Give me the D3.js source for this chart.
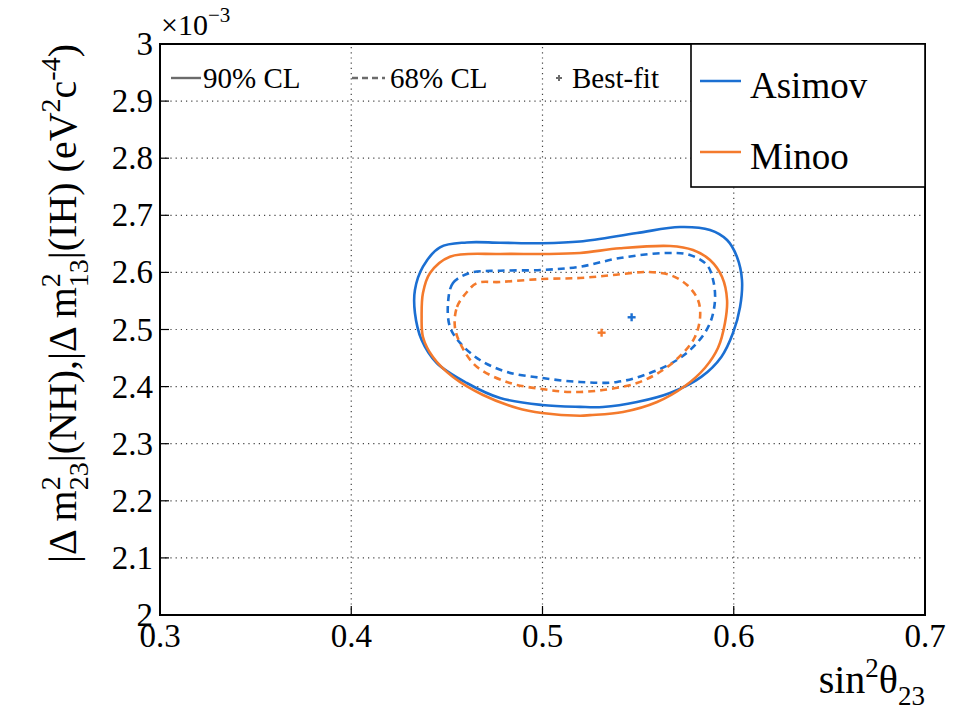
<!DOCTYPE html>
<html>
<head>
<meta charset="utf-8">
<script src="https://cdn.jsdelivr.net/npm/d3@7"></script>
<style>
  body { margin: 0; background: #fff; }
  text { font-family: "Liberation Serif", "Times New Roman", serif; fill: #000; }
</style>
</head>
<body>
<div id="chart"></div>
<script>
// contour points: [sin^2 theta23, |dm^2| x 1e3]
const asimov90 = [
  [0.4333, 2.5289], [0.4333, 2.5692], [0.4375, 2.6100], [0.4464, 2.6440], [0.4604, 2.6525],
  [0.4778, 2.6520], [0.4997, 2.6510], [0.5196, 2.6540], [0.5494, 2.6690], [0.5719, 2.6795],
  [0.5876, 2.6743], [0.5965, 2.6567], [0.6017, 2.6270], [0.6043, 2.5867], [0.6033, 2.5394],
  [0.5996, 2.4939], [0.5935, 2.4520], [0.5830, 2.4170], [0.5667, 2.3888], [0.5494, 2.3730],
  [0.5316, 2.3643], [0.5196, 2.3645], [0.4997, 2.3678], [0.4778, 2.3800], [0.4604, 2.4063],
  [0.4447, 2.4413], [0.4368, 2.4816]
];
const minoo90 = [
  [0.4368, 2.5224], [0.4375, 2.4869], [0.4427, 2.4518], [0.4532, 2.4168], [0.4689, 2.3853],
  [0.4867, 2.3625], [0.4997, 2.3538], [0.5196, 2.3490], [0.5248, 2.3500], [0.5421, 2.3555],
  [0.5599, 2.3730], [0.5745, 2.4010], [0.5850, 2.4330], [0.5918, 2.4680], [0.5954, 2.5114],
  [0.5965, 2.5517], [0.5939, 2.5919], [0.5876, 2.6217], [0.5787, 2.6392], [0.5667, 2.6462],
  [0.5405, 2.6422], [0.5196, 2.6340], [0.4997, 2.6322], [0.4778, 2.6322], [0.4516, 2.6275],
  [0.4412, 2.5990], [0.4375, 2.5639]
];
const asimov68 = [
  [0.4506, 2.5464], [0.4532, 2.5814], [0.4621, 2.5990], [0.4778, 2.6030], [0.4997, 2.6042],
  [0.5196, 2.6100], [0.5405, 2.6252], [0.5651, 2.6340], [0.5771, 2.6305], [0.5860, 2.6130],
  [0.5892, 2.5867], [0.5902, 2.5517], [0.5876, 2.5114], [0.5808, 2.4764], [0.5703, 2.4466],
  [0.5562, 2.4238], [0.5390, 2.4081], [0.5196, 2.4081], [0.4997, 2.4151], [0.4814, 2.4256],
  [0.4673, 2.4466], [0.4569, 2.4764], [0.4516, 2.5044]
];
const minoo68 = [
  [0.4542, 2.5044], [0.4553, 2.5394], [0.4605, 2.5657], [0.4658, 2.5814], [0.4778, 2.5832],
  [0.4997, 2.5884], [0.5196, 2.5902], [0.5369, 2.5954], [0.5546, 2.6007], [0.5667, 2.5954],
  [0.5756, 2.5779], [0.5813, 2.5517], [0.5824, 2.5219], [0.5797, 2.4869], [0.5735, 2.4588],
  [0.5630, 2.4291], [0.5494, 2.4063], [0.5316, 2.3940], [0.5144, 2.3905], [0.4997, 2.3958],
  [0.4830, 2.4063], [0.4658, 2.4343], [0.4579, 2.4694]
];
const bestFit = [
  {name: 'Asimov', x: 0.5466, y: 2.5214},
  {name: 'Minoo', x: 0.5309, y: 2.4944}
];
const xTicks = [0.3, 0.4, 0.5, 0.6, 0.7];
const xTickLabels = ['0.3', '0.4', '0.5', '0.6', '0.7'];
const yTicks = [2.0, 2.1, 2.2, 2.3, 2.4, 2.5, 2.6, 2.7, 2.8, 2.9, 3.0];
const yTickLabels = ['2', '2.1', '2.2', '2.3', '2.4', '2.5', '2.6', '2.7', '2.8', '2.9', '3'];

const width = 966, height = 713;
const blue = '#1b6fd2', orange = '#f47a2c';

const svg = d3.select('#chart').append('svg')
  .attr('width', width).attr('height', height)
  .attr('viewBox', [0, 0, width, height]);

const x = d3.scaleLinear().domain([0.3, 0.7]).range([160, 925]);
const y = d3.scaleLinear().domain([2.0, 3.0]).range([615, 44]);

// dotted grid
svg.append('g').selectAll('line').data(xTicks.slice(1, -1)).join('line')
  .attr('x1', d => x(d)).attr('x2', d => x(d))
  .attr('y1', y(2)).attr('y2', y(3))
  .attr('stroke', '#444').attr('stroke-width', 1.2).attr('stroke-dasharray', '1.2,4');
svg.append('g').selectAll('line').data(yTicks.slice(1, -1)).join('line')
  .attr('x1', x(0.3)).attr('x2', x(0.7))
  .attr('y1', d => y(d)).attr('y2', d => y(d))
  .attr('stroke', '#444').attr('stroke-width', 1.2).attr('stroke-dasharray', '1.2,4');

// inner ticks
svg.append('g').selectAll('line').data(xTicks).join('line')
  .attr('x1', d => x(d)).attr('x2', d => x(d))
  .attr('y1', y(2)).attr('y2', y(2) - 9)
  .attr('stroke', '#000').attr('stroke-width', 1.2);
svg.append('g').selectAll('line').data(yTicks).join('line')
  .attr('x1', x(0.3)).attr('x2', x(0.3) + 9)
  .attr('y1', d => y(d)).attr('y2', d => y(d))
  .attr('stroke', '#000').attr('stroke-width', 1.2);

// contours
const line = d3.line().x(d => x(d[0])).y(d => y(d[1])).curve(d3.curveCatmullRomClosed.alpha(0.5));
const contours = [
  {pts: asimov90, color: blue, dash: null},
  {pts: minoo90, color: orange, dash: null},
  {pts: asimov68, color: blue, dash: '7,5'},
  {pts: minoo68, color: orange, dash: '7,5'}
];
svg.append('g').selectAll('path').data(contours).join('path')
  .attr('d', d => line(d.pts))
  .attr('fill', 'none')
  .attr('stroke', d => d.color)
  .attr('stroke-width', 2.6)
  .attr('stroke-dasharray', d => d.dash);

// best-fit markers
const bf = svg.append('g').selectAll('g').data(bestFit).join('g')
  .attr('transform', d => `translate(${x(d.x)},${y(d.y)})`)
  .attr('stroke', (d, i) => i === 0 ? blue : orange).attr('stroke-width', 2.4);
bf.append('line').attr('x1', -4).attr('x2', 4);
bf.append('line').attr('y1', -4).attr('y2', 4);

// frame
svg.append('rect')
  .attr('x', x(0.3)).attr('y', y(3))
  .attr('width', x(0.7) - x(0.3)).attr('height', y(2) - y(3))
  .attr('fill', 'none').attr('stroke', '#000').attr('stroke-width', 2);

// tick labels
svg.append('g').selectAll('text').data(xTicks).join('text')
  .attr('x', d => x(d)).attr('y', 647)
  .attr('text-anchor', 'middle')
  .style('font-size', '33px')
  .text((d, i) => xTickLabels[i]);
svg.append('g').selectAll('text').data(yTicks).join('text')
  .attr('x', 153).attr('y', d => y(d) + 11)
  .attr('text-anchor', 'end')
  .style('font-size', '33px')
  .text((d, i) => yTickLabels[i]);

// exponent
const ex = svg.append('text').attr('x', 161).attr('y', 35).style('font-size', '30px');
ex.append('tspan').text('×10');
ex.append('tspan').attr('dy', -13).style('font-size', '21px').text('−3');

// x axis title
const xt = svg.append('text').attr('x', 925).attr('y', 693).attr('text-anchor', 'end').style('font-size', '40px');
xt.append('tspan').text('sin');
xt.append('tspan').attr('dy', -16).style('font-size', '27px').text('2');
xt.append('tspan').attr('dy', 16).text('θ');
xt.append('tspan').attr('dy', 12).style('font-size', '27px').text('23');

// y axis title (rotated)
const yt = svg.append('text')
  .attr('transform', 'translate(76,44) rotate(-90)')
  .attr('text-anchor', 'end')
  .style('font-size', '40px');
yt.append('tspan').text('|Δ m');
yt.append('tspan').attr('dy', -16).style('font-size', '28px').text('2');
yt.append('tspan').attr('dx', -14).attr('dy', 28).style('font-size', '28px').text('23');
yt.append('tspan').attr('dy', -12).text('|(NH),|Δ m');
yt.append('tspan').attr('dy', -16).style('font-size', '28px').text('2');
yt.append('tspan').attr('dx', -14).attr('dy', 28).style('font-size', '28px').text('13');
yt.append('tspan').attr('dy', -12).text('|(IH) (eV');
yt.append('tspan').attr('dy', -16).style('font-size', '28px').text('2');
yt.append('tspan').attr('dy', 16).text('c');
yt.append('tspan').attr('dy', -16).style('font-size', '28px').text('-4');
yt.append('tspan').attr('dy', 16).text(')');

// line-style legend inside plot
const styleLegend = [
  {label: '90% CL', kind: 'solid', sx: 171, tx: 203},
  {label: '68% CL', kind: 'dash', sx: 352, tx: 390},
  {label: 'Best-fit', kind: 'marker', sx: 559, tx: 572}
];
const sl = svg.append('g').selectAll('g').data(styleLegend).join('g');
sl.filter(d => d.kind !== 'marker').append('line')
  .attr('x1', d => d.sx).attr('x2', d => d.sx + (d.kind === 'solid' ? 30 : 33))
  .attr('y1', 78).attr('y2', 78)
  .attr('stroke', '#6b6b6b').attr('stroke-width', 2.4)
  .attr('stroke-dasharray', d => d.kind === 'dash' ? '6,4' : null);
sl.filter(d => d.kind === 'marker').each(function (d) {
  const g = d3.select(this).append('g').attr('stroke', '#6b6b6b').attr('stroke-width', 2);
  g.append('line').attr('x1', d.sx - 3).attr('x2', d.sx + 3).attr('y1', 78).attr('y2', 78);
  g.append('line').attr('x1', d.sx).attr('x2', d.sx).attr('y1', 75).attr('y2', 81);
});
sl.append('text').attr('x', d => d.tx).attr('y', 88)
  .style('font-size', '29px').text(d => d.label);

// series legend
const series = [
  {name: 'Asimov', color: blue},
  {name: 'Minoo', color: orange}
];
svg.append('rect').attr('x', 691).attr('y', 44).attr('width', 234).attr('height', 143)
  .attr('fill', '#fff').attr('stroke', '#000').attr('stroke-width', 1.6);
const lg = svg.append('g').selectAll('g').data(series).join('g')
  .attr('transform', (d, i) => `translate(0,${81 + i * 71})`);
lg.append('line').attr('x1', 700).attr('x2', 741).attr('y1', 0).attr('y2', 0)
  .attr('stroke', d => d.color).attr('stroke-width', 2.6);
lg.append('text').attr('x', 750).attr('y', 17).style('font-size', '37px').text(d => d.name);
</script>
</body>
</html>
